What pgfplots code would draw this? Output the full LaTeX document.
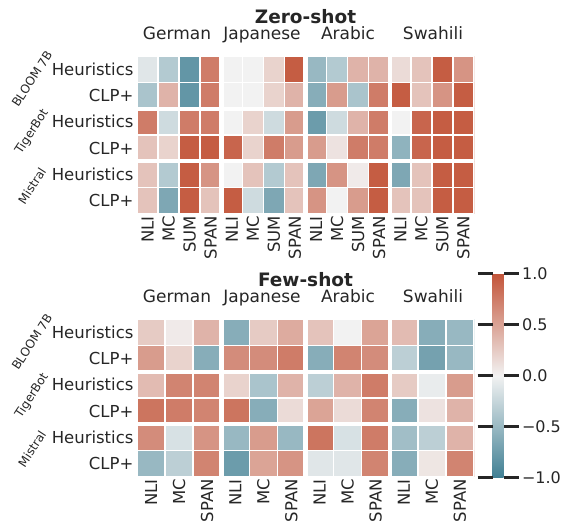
\documentclass[border=0pt]{standalone}
\usepackage{fontspec}
\setmainfont{DejaVu Sans}
\usepackage{pgfplots}
\pgfplotsset{compat=1.18}
\usetikzlibrary{calc}
\definecolor{tc}{HTML}{262626}
\pgfplotsset{colormap={sbdiv}{rgb255=(63,127,147) rgb255=(242,242,242) rgb255=(195,85,58)}}
\pgfplotsset{hm/.style={
  scale only axis, width=337pt, height=158pt, anchor=south west,
  xmin=-0.5, ymin=-0.5, ymax=5.5, y dir=reverse,
  colormap name=sbdiv, point meta min=-1, point meta max=1,
  axis line style={draw=none}, major tick length=0pt, tick style={draw=none},
  ytick={0,...,5}, yticklabels={Heuristics,CLP+,Heuristics,CLP+,Heuristics,CLP+},
  yticklabel style={font=\fontsize{16.5}{18}\selectfont, text=tc},
  xticklabel style={rotate=90, anchor=east, font=\fontsize{16.5}{18}\selectfont, text=tc, inner sep=2pt},
}}
\begin{document}
\begin{tikzpicture}
\useasboundingbox (0,0) rectangle (564pt,521pt);
% ---------------- Zero-shot ----------------
\begin{axis}[hm, at={(137pt,307pt)}, xmax=15.5,
  xtick={0,...,15}, xticklabels={NLI,MC,SUM,SPAN,NLI,MC,SUM,SPAN,NLI,MC,SUM,SPAN,NLI,MC,SUM,SPAN}]
\addplot[matrix plot*, mesh/cols=16, point meta=explicit] table[row sep=\\, meta=c]{
x y c\\
0 0 -0.10\\ 1 0 -0.35\\ 2 0 -0.80\\ 3 0 0.75\\ 4 0 0.00\\ 5 0 0.00\\ 6 0 0.20\\ 7 0 0.95\\ 8 0 -0.50\\ 9 0 -0.35\\ 10 0 0.40\\ 11 0 0.40\\ 12 0 0.15\\ 13 0 0.30\\ 14 0 0.95\\ 15 0 0.60\\
0 1 -0.40\\ 1 1 0.40\\ 2 1 -0.80\\ 3 1 0.75\\ 4 1 0.00\\ 5 1 0.00\\ 6 1 0.20\\ 7 1 0.40\\ 8 1 -0.60\\ 9 1 0.55\\ 10 1 -0.40\\ 11 1 0.75\\ 12 1 0.95\\ 13 1 0.30\\ 14 1 0.60\\ 15 1 0.95\\
0 2 0.75\\ 1 2 -0.20\\ 2 2 0.75\\ 3 2 0.75\\ 4 2 0.00\\ 5 2 0.20\\ 6 2 -0.20\\ 7 2 0.55\\ 8 2 -0.75\\ 9 2 -0.20\\ 10 2 0.40\\ 11 2 0.75\\ 12 2 0.00\\ 13 2 0.90\\ 14 2 0.95\\ 15 2 0.95\\
0 3 0.30\\ 1 3 0.20\\ 2 3 0.95\\ 3 3 0.95\\ 4 3 0.90\\ 5 3 0.20\\ 6 3 0.75\\ 7 3 0.55\\ 8 3 0.55\\ 9 3 0.10\\ 10 3 0.75\\ 11 3 0.75\\ 12 3 -0.55\\ 13 3 0.90\\ 14 3 0.95\\ 15 3 0.95\\
0 4 0.30\\ 1 4 -0.35\\ 2 4 0.95\\ 3 4 0.60\\ 4 4 0.00\\ 5 4 0.30\\ 6 4 -0.35\\ 7 4 0.30\\ 8 4 -0.65\\ 9 4 0.60\\ 10 4 0.05\\ 11 4 0.95\\ 12 4 -0.65\\ 13 4 0.30\\ 14 4 0.95\\ 15 4 0.95\\
0 5 0.30\\ 1 5 -0.65\\ 2 5 0.95\\ 3 5 0.30\\ 4 5 0.95\\ 5 5 -0.20\\ 6 5 -0.65\\ 7 5 0.30\\ 8 5 0.60\\ 9 5 0.00\\ 10 5 0.55\\ 11 5 0.95\\ 12 5 0.30\\ 13 5 0.30\\ 14 5 0.95\\ 15 5 0.95\\
};
\pgfplotsinvokeforeach{0.5,1.5,2.5,4.5,5.5,6.5,8.5,9.5,10.5,12.5,13.5,14.5}{\draw[white, line width=1.5pt] (axis cs:#1,-0.6) -- (axis cs:#1,5.6);}
\pgfplotsinvokeforeach{0.5,2.5,4.5}{\draw[white, line width=1.5pt] (axis cs:-0.6,#1) -- (axis cs:15.6,#1);}
\pgfplotsinvokeforeach{3.5,7.5,11.5}{\draw[white, line width=4.5pt] (axis cs:#1,-0.6) -- (axis cs:#1,5.6);}
\pgfplotsinvokeforeach{1.5,3.5}{\draw[white, line width=4pt] (axis cs:-0.6,#1) -- (axis cs:15.6,#1);}
\draw[white, line width=1.5pt] (rel axis cs:0,0) rectangle (rel axis cs:1,1);
\end{axis}
% ---------------- Few-shot ----------------
\begin{axis}[hm, at={(137pt,44pt)}, xmax=11.5,
  xtick={0,...,11}, xticklabels={NLI,MC,SPAN,NLI,MC,SPAN,NLI,MC,SPAN,NLI,MC,SPAN},
  colorbar,
  colorbar style={
    at={($(parent axis.south east)+(10pt,-1pt)$)}, anchor=south west,
    scale only axis, width=11pt, height=204pt,
    ytick={-1,-0.5,0,0.5,1}, yticklabels={−1.0,−0.5,0.0,0.5,1.0},
    axis line style={draw=none},
    major tick length=15pt, tick align=outside,
    tick style={draw=tc, line width=3pt},
    yticklabel style={font=\fontsize{16}{18}\selectfont, text=tc},
  }]
\addplot[matrix plot*, mesh/cols=12, point meta=explicit] table[row sep=\\, meta=c]{
x y c\\
0 0 0.25\\ 1 0 0.05\\ 2 0 0.40\\ 3 0 -0.60\\ 4 0 0.25\\ 5 0 0.45\\ 6 0 0.30\\ 7 0 0.00\\ 8 0 0.50\\ 9 0 0.35\\ 10 0 -0.60\\ 11 0 -0.50\\
0 1 0.55\\ 1 1 0.20\\ 2 1 -0.60\\ 3 1 0.65\\ 4 1 0.65\\ 5 1 0.75\\ 6 1 -0.60\\ 7 1 0.70\\ 8 1 0.65\\ 9 1 -0.30\\ 10 1 -0.70\\ 11 1 -0.50\\
0 2 0.35\\ 1 2 0.70\\ 2 2 0.70\\ 3 2 0.20\\ 4 2 -0.40\\ 5 2 0.40\\ 6 2 -0.30\\ 7 2 0.40\\ 8 2 0.75\\ 9 2 0.25\\ 10 2 -0.05\\ 11 2 0.55\\
0 3 0.80\\ 1 3 0.75\\ 2 3 0.70\\ 3 3 0.80\\ 4 3 -0.60\\ 5 3 0.15\\ 6 3 0.50\\ 7 3 0.15\\ 8 3 0.70\\ 9 3 -0.60\\ 10 3 0.10\\ 11 3 0.40\\
0 4 0.65\\ 1 4 -0.15\\ 2 4 0.60\\ 3 4 -0.50\\ 4 4 0.55\\ 5 4 -0.50\\ 6 4 0.80\\ 7 4 -0.15\\ 8 4 0.75\\ 9 4 -0.45\\ 10 4 -0.30\\ 11 4 0.40\\
0 5 -0.50\\ 1 5 -0.30\\ 2 5 0.70\\ 3 5 -0.75\\ 4 5 0.50\\ 5 5 0.60\\ 6 5 -0.10\\ 7 5 -0.10\\ 8 5 0.70\\ 9 5 -0.60\\ 10 5 0.08\\ 11 5 0.70\\
};
\pgfplotsinvokeforeach{0.5,1.5,3.5,4.5,6.5,7.5,9.5,10.5}{\draw[white, line width=1.5pt] (axis cs:#1,-0.6) -- (axis cs:#1,5.6);}
\pgfplotsinvokeforeach{0.5,2.5,4.5}{\draw[white, line width=1.5pt] (axis cs:-0.6,#1) -- (axis cs:11.6,#1);}
\pgfplotsinvokeforeach{2.5,5.5,8.5}{\draw[white, line width=4.5pt] (axis cs:#1,-0.6) -- (axis cs:#1,5.6);}
\pgfplotsinvokeforeach{1.5,3.5}{\draw[white, line width=4pt] (axis cs:-0.6,#1) -- (axis cs:11.6,#1);}
\draw[white, line width=1.5pt] (rel axis cs:0,0) rectangle (rel axis cs:1,1);
\end{axis}
% ---------------- Titles and group labels ----------------
\begin{scope}[every node/.style={text=tc}]
\node[anchor=base, font=\fontsize{18.5}{20}\selectfont\bfseries] at (305.5pt,497pt) {Zero-shot};
\node[anchor=base, font=\fontsize{17}{19}\selectfont] at (177pt,481pt) {German};
\node[anchor=base, font=\fontsize{17}{19}\selectfont] at (262pt,481pt) {Japanese};
\node[anchor=base, font=\fontsize{17}{19}\selectfont] at (348pt,481pt) {Arabic};
\node[anchor=base, font=\fontsize{17}{19}\selectfont] at (433pt,481pt) {Swahili};
\node[anchor=base, font=\fontsize{18.5}{20}\selectfont\bfseries] at (305.5pt,234pt) {Few-shot};
\node[anchor=base, font=\fontsize{17}{19}\selectfont] at (177pt,218pt) {German};
\node[anchor=base, font=\fontsize{17}{19}\selectfont] at (262pt,218pt) {Japanese};
\node[anchor=base, font=\fontsize{17}{19}\selectfont] at (348pt,218pt) {Arabic};
\node[anchor=base, font=\fontsize{17}{19}\selectfont] at (433pt,218pt) {Swahili};
\node[rotate=57, font=\fontsize{12}{14}\selectfont] at (32pt,442pt) {BLOOM 7B};
\node[rotate=57, font=\fontsize{12}{14}\selectfont] at (32pt,389pt) {TigerBot};
\node[rotate=57, font=\fontsize{12}{14}\selectfont] at (32pt,335pt) {Mistral};
\node[rotate=57, font=\fontsize{12}{14}\selectfont] at (32pt,179pt) {BLOOM 7B};
\node[rotate=57, font=\fontsize{12}{14}\selectfont] at (32pt,125pt) {TigerBot};
\node[rotate=57, font=\fontsize{12}{14}\selectfont] at (32pt,72pt) {Mistral};
\end{scope}
\end{tikzpicture}
\end{document}
